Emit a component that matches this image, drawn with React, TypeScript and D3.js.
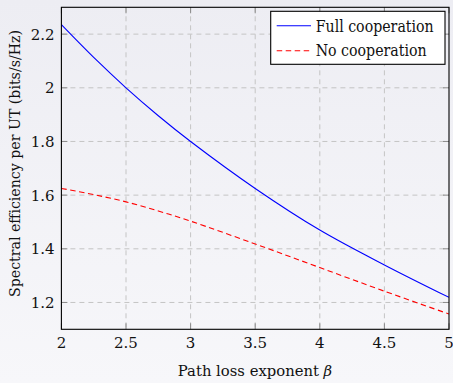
import React from "react";
import * as d3 from "d3";

const betaValues = [2, 2.25, 2.5, 2.75, 3, 3.5, 4, 4.5, 5];
const fullCooperation = [2.235, 2.113, 2.0, 1.896, 1.8, 1.625, 1.47, 1.34, 1.219];
const noCooperation = [1.625, 1.602, 1.575, 1.541, 1.503, 1.418, 1.33, 1.242, 1.157];
const xTicks = [2, 2.5, 3, 3.5, 4, 4.5, 5];
const xTickLabels = ["2", "2.5", "3", "3.5", "4", "4.5", "5"];
const yTicks = [1.2, 1.4, 1.6, 1.8, 2.0, 2.2];
const yTickLabels = ["1.2", "1.4", "1.6", "1.8", "2", "2.2"];
const seriesNames = ["Full cooperation", "No cooperation"];

const W = 453;
const H = 383;
const L = 61.4, R = 449, T = 7.3, B = 329.3;
const FONT = "DejaVu Serif";

export default function App() {
  const x = d3.scaleLinear().domain([2, 5]).range([L, R]);
  const y = d3.scaleLinear().domain([1.1, 2.3]).range([B, T]);
  const line = d3
    .line<[number, number]>()
    .x((d) => x(d[0]))
    .y((d) => y(d[1]))
    .curve(d3.curveCatmullRom.alpha(0.5));
  const fullPts = betaValues.map((b, i) => [b, fullCooperation[i]] as [number, number]);
  const noPts = betaValues.map((b, i) => [b, noCooperation[i]] as [number, number]);
  const tickLen = 6;
  const gridColor = "#c4c4c4";
  const tickColor = "#8a8a8a";

  return (
    <svg
      width={W}
      height={H}
      style={{ position: "absolute", left: 0, top: 0, display: "block" }}
      fontFamily={FONT}
    >
      <defs>
        <linearGradient id="bg" x1="0" y1="0" x2="0" y2="1">
          <stop offset="0" stopColor="#ededf3" />
          <stop offset="1" stopColor="#f7f7fa" />
        </linearGradient>
        <clipPath id="plotclip">
          <rect x={L} y={T} width={R - L} height={B - T} />
        </clipPath>
      </defs>
      <rect x={0} y={0} width={W} height={H} fill="url(#bg)" />

      <g stroke={gridColor} strokeWidth={1} strokeDasharray="5,4">
        {xTicks.slice(1, -1).map((t) => (
          <line key={"gx" + t} x1={x(t)} x2={x(t)} y1={T} y2={B} />
        ))}
        {yTicks.map((t) => (
          <line key={"gy" + t} x1={L} x2={R} y1={y(t)} y2={y(t)} />
        ))}
      </g>

      <g stroke={tickColor} strokeWidth={1}>
        {xTicks.map((t) => (
          <g key={"tx" + t}>
            <line x1={x(t)} x2={x(t)} y1={B} y2={B - tickLen} />
            <line x1={x(t)} x2={x(t)} y1={T} y2={T + tickLen} />
          </g>
        ))}
        {yTicks.map((t) => (
          <g key={"ty" + t}>
            <line x1={L} x2={L + tickLen} y1={y(t)} y2={y(t)} />
            <line x1={R} x2={R - tickLen} y1={y(t)} y2={y(t)} />
          </g>
        ))}
      </g>

      <g clipPath="url(#plotclip)">
        <path d={line(fullPts) || ""} fill="none" stroke="#0000ff" strokeWidth={1.1} />
        <path
          d={line(noPts) || ""}
          fill="none"
          stroke="#ff0000"
          strokeWidth={1.1}
          strokeDasharray="5.5,3.5"
        />
      </g>

      <rect x={L} y={T} width={R - L} height={B - T} fill="none" stroke="#000" strokeWidth={1.1} />

      <g fontSize={15} fill="#111">
        {xTicks.map((t, i) => (
          <text key={"lx" + t} x={x(t)} y={348} textAnchor="middle">
            {xTickLabels[i]}
          </text>
        ))}
        {yTicks.map((t, i) => (
          <text key={"ly" + t} x={54.5} y={y(t) + 5.5} textAnchor="end">
            {yTickLabels[i]}
          </text>
        ))}
      </g>

      <text x={255} y={376} fontSize={14.8} fill="#111" textAnchor="middle">
        Path loss exponent <tspan fontStyle="italic">β</tspan>
      </text>
      <text
        transform={`translate(20, 297) rotate(-90)`}
        fontSize={15.5}
        fill="#111"
        textLength={267}
        lengthAdjust="spacingAndGlyphs"
      >
        Spectral efficiency per UT (bits/s/Hz)
      </text>

      <g>
        <rect x={270.7} y={11.3} width={174.3} height={53} fill="#ffffff" stroke="#000" strokeWidth={1.1} />
        <line x1={276.7} x2={311} y1={25.7} y2={25.7} stroke="#0000ff" strokeWidth={1.1} />
        <line
          x1={276.7}
          x2={311}
          y1={50.7}
          y2={50.7}
          stroke="#ff0000"
          strokeWidth={1.1}
          strokeDasharray="5.5,3.5"
        />
        <text x={315.7} y={31.5} fontSize={16} fill="#111" textLength={118} lengthAdjust="spacingAndGlyphs">
          {seriesNames[0]}
        </text>
        <text x={315.7} y={56} fontSize={16} fill="#111" textLength={111} lengthAdjust="spacingAndGlyphs">
          {seriesNames[1]}
        </text>
      </g>
    </svg>
  );
}
